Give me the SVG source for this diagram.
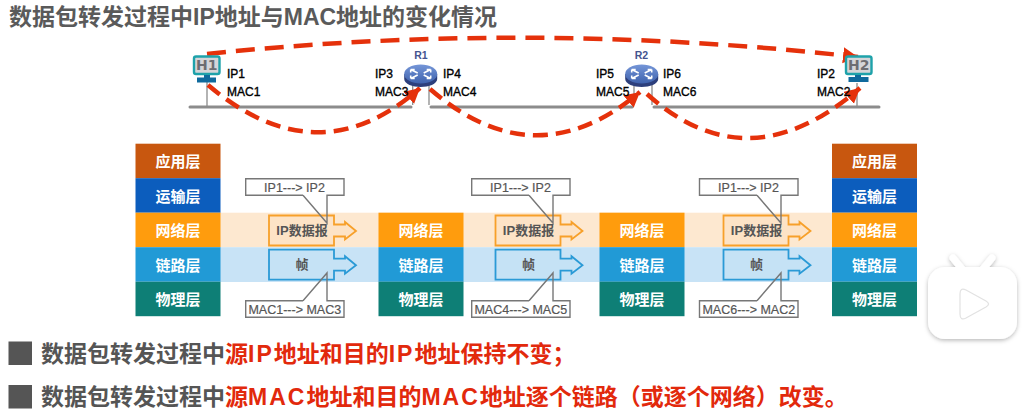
<svg xmlns="http://www.w3.org/2000/svg" xmlns:xlink="http://www.w3.org/1999/xlink" width="1025" height="419" viewBox="0 0 1025 419">
<style>
text{font-family:"Liberation Sans","Noto Sans CJK SC",sans-serif}
.title{font-size:23px;font-weight:bold;fill:#5a5a5a}
.bul{font-size:23px;font-weight:bold;fill:#555}
.red{fill:#e2290c}
.sp{letter-spacing:2px}
.sq{fill:#555}
.addr{font-size:12px;fill:#000;stroke:#000;stroke-width:.35}
.rn{font-size:10.5px;font-weight:bold;fill:#44548f;text-anchor:middle}
.bus{stroke:#8c8c8c;stroke-width:3;fill:none;stroke-linecap:round}
.drop{stroke:#8c8c8c;stroke-width:1.3;fill:none}
.hop{stroke:#e5310b;stroke-width:4.500;fill:none;stroke-dasharray:15 8;marker-end:url(#ah)}
.long{stroke-dasharray:19 10}
.ly{font-size:15px;font-weight:bold;fill:#fff;text-anchor:middle}
.app{fill:#c8570f}.tra{fill:#0c5dbd}.net{fill:#ff9c0d}.lnk{fill:#219ad6}.phy{fill:#0e7f76}
.pdu{font-size:13px;font-weight:bold;fill:#555;text-anchor:middle}
.o{fill:#fde3c6;stroke:#f7a02a;stroke-width:1.8}
.b{fill:#c5e2f5;stroke:#2a9ad6;stroke-width:1.8}
.cb{fill:#fff}
.co{fill:none;stroke:#777;stroke-width:1.4}
.cl{font-size:12.5px;fill:#555;stroke:#555;stroke-width:.2;text-anchor:middle}
.hs{fill:#d5d5d8;stroke:#1ea2aa;stroke-width:2.4}
.hf{fill:#0f6a9d}
.ht{font-size:14px;font-weight:bold;fill:#6d6d72;text-anchor:middle;font-family:"DejaVu Sans",sans-serif}
.ra{stroke:#fff;stroke-width:1.6;fill:none}
</style>
<defs>
<marker id="ah" markerUnits="userSpaceOnUse" markerWidth="18" markerHeight="18" refX="15" refY="8" orient="auto"><path d="M0 0L15 8L0 16Z" fill="#e5310b"/></marker>
<linearGradient id="rg" x1="0" y1="0" x2="0" y2="1"><stop offset="0" stop-color="#7596d8"/><stop offset="1" stop-color="#3e62ad"/></linearGradient>
<filter id="sh" x="-20%" y="-20%" width="140%" height="140%"><feDropShadow dx="0" dy="1.5" stdDeviation="2" flood-color="#000" flood-opacity=".28"/></filter>
<g id="rt">
<path d="M-16.500 -1V4C-16.500 9 -8 12 0 12S16.500 9 16.500 4V-1Z" fill="#2c3f7c"/>
<ellipse cx="0" cy="-1" rx="16.500" ry="9.500" fill="url(#rg)"/>
<path class="ra" d="M-10 -5.500L-3 -2M-10 -5.500h4M-10 -5.500v3M10 -5.500L3 -2M10 -5.500h-4M10 -5.500v3M-10 3.500L-3 0M-10 3.500h4M-10 3.500v-3M10 3.500L3 0M10 3.500h-4M10 3.500v-3"/>
</g>
<g id="st">
<rect x="0" y="0" width="85" height="34.500" class="net"/>
<rect x="0" y="34.500" width="85" height="34.500" class="lnk"/>
<rect x="0" y="69" width="85" height="34.500" class="phy"/>
<text x="42.500" y="23.500" class="ly">网络层</text>
<text x="42.500" y="58" class="ly">链路层</text>
<text x="42.500" y="92.500" class="ly">物理层</text>
</g>
<g id="ap">
<rect x="0" y="-69" width="85" height="34.500" class="app"/>
<rect x="0" y="-34.500" width="85" height="34.500" class="tra"/>
<text x="42.500" y="-45.500" class="ly">应用层</text>
<text x="42.500" y="-11" class="ly">运输层</text>
</g>
<path id="pa" d="M0 0H65V9H76V6.500L87 15.500L76 24V21H65V30H0Z"/>
</defs>

<text x="9" y="25" class="title">数据包转发过程中IP地址与MAC地址的变化情况</text>

<g id="bands">
<rect x="220" y="212.700" width="612" height="34.500" fill="#fde8d0"/>
<rect x="220" y="247.200" width="612" height="34.800" fill="#c8e3f6"/>
</g>

<g id="connectors">
<path class="bus" d="M190 107H411"/>
<path class="bus" d="M431 107H632"/>
<path class="bus" d="M654 107H879"/>
<path class="drop" d="M207 80V107M412.700 84V105M429 84V105M634 84V105M652 84V105M857 83V107"/>
<path class="hop long" d="M207 54Q530 20 858 57"/>
<path class="hop" d="M208 85Q318 178 420 88"/>
<path class="hop" d="M430 89Q535 180 640 92"/>
<path class="hop" d="M647 94Q748 185 860 88"/>
</g>

<g id="h1">
<rect x="194" y="56.500" width="25.500" height="17.500" rx="2" class="hs"/>
<text x="206.700" y="70" class="ht">H1</text>
<rect x="204" y="75" width="6" height="3" class="hf"/><rect x="197" y="77.500" width="19" height="5" class="hf"/>
</g>
<g id="r1"><text x="421" y="58.500" class="rn">R1</text><use xlink:href="#rt" href="#rt" x="420.700" y="75"/></g>
<g id="r2"><text x="641.500" y="58.500" class="rn">R2</text><use xlink:href="#rt" href="#rt" x="641.700" y="75"/></g>
<g id="h2">
<rect x="846" y="56.500" width="25.500" height="17.500" rx="2" class="hs"/>
<text x="858.700" y="70" class="ht">H2</text>
<rect x="855" y="75" width="6" height="3" class="hf"/><rect x="848.500" y="77" width="20" height="5" class="hf"/>
</g>

<g id="addresses">
<text x="227" y="78" class="addr">IP1</text><text x="227" y="96" class="addr">MAC1</text>
<text x="375" y="78" class="addr">IP3</text><text x="375" y="96" class="addr">MAC3</text>
<text x="443" y="78" class="addr">IP4</text><text x="443" y="96" class="addr">MAC4</text>
<text x="596" y="78" class="addr">IP5</text><text x="596" y="96" class="addr">MAC5</text>
<text x="663" y="78" class="addr">IP6</text><text x="663" y="96" class="addr">MAC6</text>
<text x="817" y="78" class="addr">IP2</text><text x="817" y="96" class="addr">MAC2</text>
</g>

<g id="stack-h1"><use xlink:href="#ap" href="#ap" x="135.500" y="212.700"/><use xlink:href="#st" href="#st" x="135.500" y="212.700"/></g>
<g id="stack-r1"><use xlink:href="#st" href="#st" x="378.500" y="212.700"/></g>
<g id="stack-r2"><use xlink:href="#st" href="#st" x="599.500" y="212.700"/></g>
<g id="stack-h2"><use xlink:href="#ap" href="#ap" x="832" y="212.700"/><use xlink:href="#st" href="#st" x="832" y="212.700"/></g>

<g id="pdu-1">
<use xlink:href="#pa" href="#pa" class="o" x="269" y="215.500"/><use xlink:href="#pa" href="#pa" class="b" x="269" y="249.700"/>
<text x="302" y="235" class="pdu">IP数据报</text><text x="302" y="269" class="pdu">帧</text>
<rect x="245.700" y="178.700" width="98.300" height="16.600" class="cb"/>
<path class="co" d="M303 195.300H245.700V178.700H344V195.300H327V223L303 195.300"/>
<text x="294.500" y="191.500" class="cl">IP1---&gt; IP2</text>
<rect x="245.700" y="300.700" width="98.300" height="16.600" class="cb"/>
<path class="co" d="M303 300.700H245.700V317.300H344V300.700H327V273L303 300.700"/>
<text x="294.800" y="313.500" class="cl">MAC1---&gt; MAC3</text>
</g>
<g id="pdu-2">
<use xlink:href="#pa" href="#pa" class="o" x="495.500" y="215.500"/><use xlink:href="#pa" href="#pa" class="b" x="495.500" y="249.700"/>
<text x="528.500" y="235" class="pdu">IP数据报</text><text x="528.500" y="269" class="pdu">帧</text>
<rect x="471.700" y="178.700" width="98.300" height="16.600" class="cb"/>
<path class="co" d="M529 195.300H471.700V178.700H570V195.300H553V223L529 195.300"/>
<text x="520.500" y="191.500" class="cl">IP1---&gt; IP2</text>
<rect x="471.700" y="300.700" width="98.300" height="16.600" class="cb"/>
<path class="co" d="M529 300.700H471.700V317.300H570V300.700H553V273L529 300.700"/>
<text x="520.800" y="313.500" class="cl">MAC4---&gt; MAC5</text>
</g>
<g id="pdu-3">
<use xlink:href="#pa" href="#pa" class="o" x="723.500" y="215.500"/><use xlink:href="#pa" href="#pa" class="b" x="723.500" y="249.700"/>
<text x="756.500" y="235" class="pdu">IP数据报</text><text x="756.500" y="269" class="pdu">帧</text>
<rect x="699.500" y="178.700" width="98.300" height="16.600" class="cb"/>
<path class="co" d="M757 195.300H699.500V178.700H798V195.300H781V223L757 195.300"/>
<text x="748.500" y="191.500" class="cl">IP1---&gt; IP2</text>
<rect x="699.500" y="300.700" width="98.300" height="16.600" class="cb"/>
<path class="co" d="M757 300.700H699.500V317.300H798V300.700H781V273L757 300.700"/>
<text x="748.800" y="313.500" class="cl">MAC6---&gt; MAC2</text>
</g>

<rect x="8.500" y="341.500" width="23.500" height="23.500" class="sq"/>
<text x="41" y="362" class="bul">数据包转发过程中<tspan class="red">源<tspan class="sp">IP</tspan>地址和目的<tspan class="sp">IP</tspan>地址保持不变；</tspan></text>
<rect x="8.500" y="385" width="23.500" height="23.500" class="sq"/>
<text x="41" y="405" class="bul">数据包转发过程中<tspan class="red">源<tspan class="sp">MAC</tspan>地址和目的<tspan class="sp">MAC</tspan>地址逐个链路（或逐个网络）改变。</tspan></text>

<g id="badge" filter="url(#sh)">
<path d="M953 258L962 269M992 258L983 269" stroke="#fff" stroke-width="7" stroke-linecap="round" fill="none"/>
<rect x="928" y="267" width="89" height="72" rx="17" fill="#fff"/>
</g>
<path d="M960 294Q960 287 966 290L986 301Q991 304 986 307L966 318Q960 321 960 314Z" fill="#fff" stroke="#e2e2e2" stroke-width="1.200"/>
</svg>
